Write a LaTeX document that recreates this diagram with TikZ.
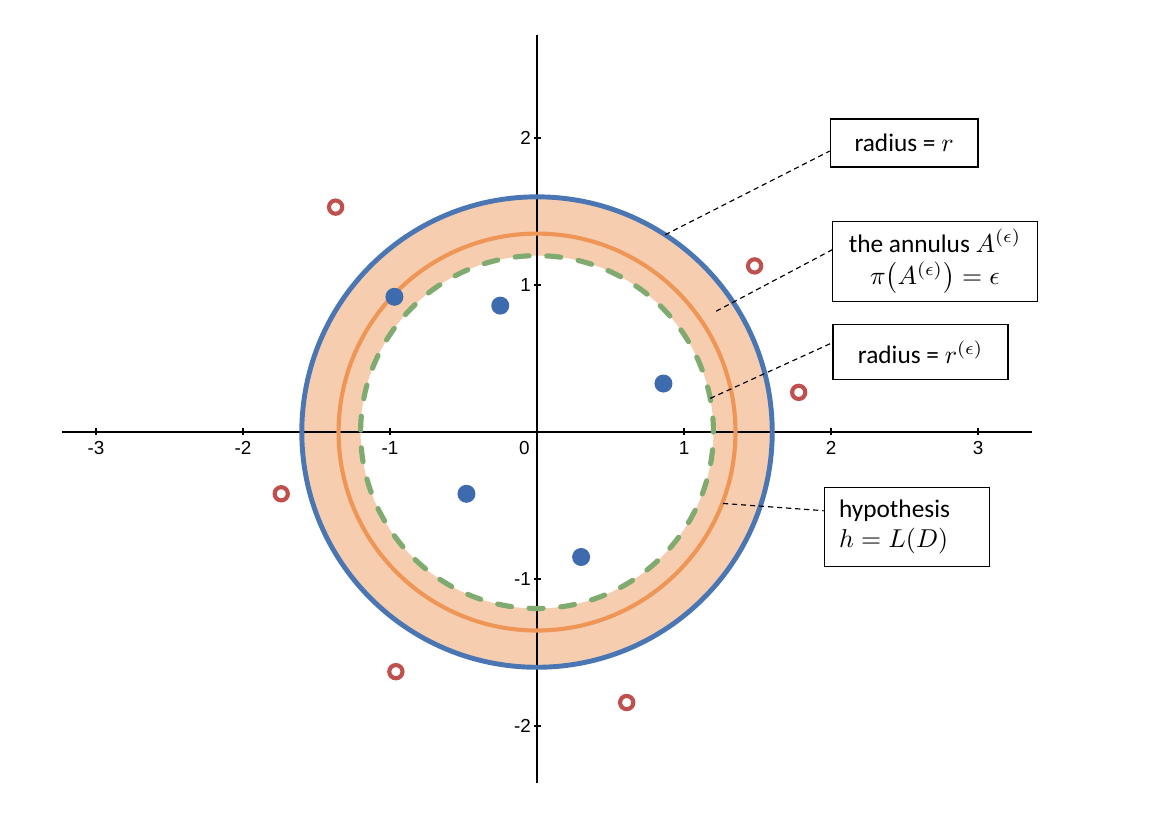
\documentclass[tikz,border=0pt]{standalone}
\usepackage{amsmath}
\usepackage{fontspec}
\setmainfont{Carlito}
\newfontfamily\tickfont{Liberation Sans}
\usetikzlibrary{positioning, calc}
\definecolor{ringblue}{HTML}{4A76B4}
\definecolor{ringorange}{HTML}{EF9657}
\definecolor{annfill}{HTML}{F7CDB0}
\definecolor{ringgreen}{HTML}{7FAB70}
\definecolor{dotblue}{HTML}{3D6BAE}
\definecolor{dotred}{HTML}{C0504D}
\tikzset{
    lbl/.style={draw, line width=0.5pt, fill=white, inner sep=0pt,
        font=\fontsize{9.8}{11.5}\selectfont},
    leader/.style={line width=0.45pt, dash pattern=on 2pt off 1.5pt},
    tick/.style={font=\tickfont\fontsize{7.3}{8}\selectfont, inner sep=1pt},
    inpt/.style={circle, fill=dotblue, inner sep=0pt, minimum size=0.245cm},
    outpt/.style={circle, draw=dotred, line width=1.6pt, inner sep=0pt, minimum size=0.18cm}
}

\begin{document}
\begin{tikzpicture}[x=2cm, y=2cm]
    \useasboundingbox (-3.653,-2.721) rectangle (4.265,2.939);

    % 圆环区域
    \fill[annfill, even odd rule] (0,0) circle (1.6) (0,0) circle (1.2);

    % 坐标轴
    \draw[line width=0.6pt] (-3.231,0) -- (3.367,0);
    \draw[line width=0.6pt] (0,-2.389) -- (0,2.703);
    \foreach \x in {-3,-2,-1,1,2,3} {
        \draw[line width=0.5pt] (\x,-0.02) -- (\x,0.03);
        \node[tick, anchor=north] (xt\x) at (\x,-0.045) {\x};
    }
    \foreach \y in {-2,-1,1,2} {
        \draw[line width=0.5pt] (-0.02,\y) -- (0.03,\y);
        \node[tick, anchor=east] (yt\y) at (-0.02,\y) {\y};
    }
    \node[tick, anchor=north east] (o) at (-0.03,-0.045) {0};

    % 三个圆
    \draw[ringgreen, line width=2pt, line cap=round, dash pattern=on 5.4pt off 6.86pt] (0,0) circle (1.2);
    \draw[ringorange, line width=1.6pt] (0,0) circle (1.35);
    \draw[ringblue, line width=1.9pt] (0,0) circle (1.6);

    % 样本点
    \foreach \p [count=\i] in {(-0.97,0.92), (-0.25,0.86), (0.86,0.33), (-0.48,-0.42), (0.30,-0.85)} {
        \node[inpt] (in\i) at \p {};
    }
    \foreach \p [count=\i] in {(-1.37,1.53), (1.48,1.13), (1.78,0.27), (-1.74,-0.42), (-0.96,-1.63), (0.61,-1.84)} {
        \node[outpt] (out\i) at \p {};
    }

    % 标注框
    \node[lbl, minimum width=2.01cm, minimum height=0.655cm] (rbox) at (2.497,1.966) {radius = $r$};
    \node[lbl, align=center, minimum width=2.78cm, minimum height=1.09cm] (abox) at (2.707,1.160)
        {the annulus $A^{(\epsilon)}$\\[1pt] $\pi\big(A^{(\epsilon)}\big)=\epsilon$};
    \node[lbl, minimum width=2.38cm, minimum height=0.75cm] (ebox) at (2.609,0.543) {radius = $r^{(\epsilon)}$};
    \node[lbl, align=left, text width=1.85cm, inner xsep=0.2cm, minimum height=1.08cm] (hbox) at (2.517,-0.645)
        {hypothesis\\ $h=L(D)$};

    % 引线
    \coordinate (pr) at (57:1.6);
    \coordinate (pa) at (34:1.47);
    \coordinate (pe) at (11:1.2);
    \coordinate (ph) at (-21:1.355);
    \draw[leader] (pr) -- ([yshift=-0.11cm]rbox.west);
    \draw[leader] (pa) -- ([yshift=0.16cm]abox.west);
    \draw[leader] (pe) -- ([yshift=0.13cm]ebox.west);
    \draw[leader] (ph) -- ([yshift=0.22cm]hbox.west);
\end{tikzpicture}
\end{document}
